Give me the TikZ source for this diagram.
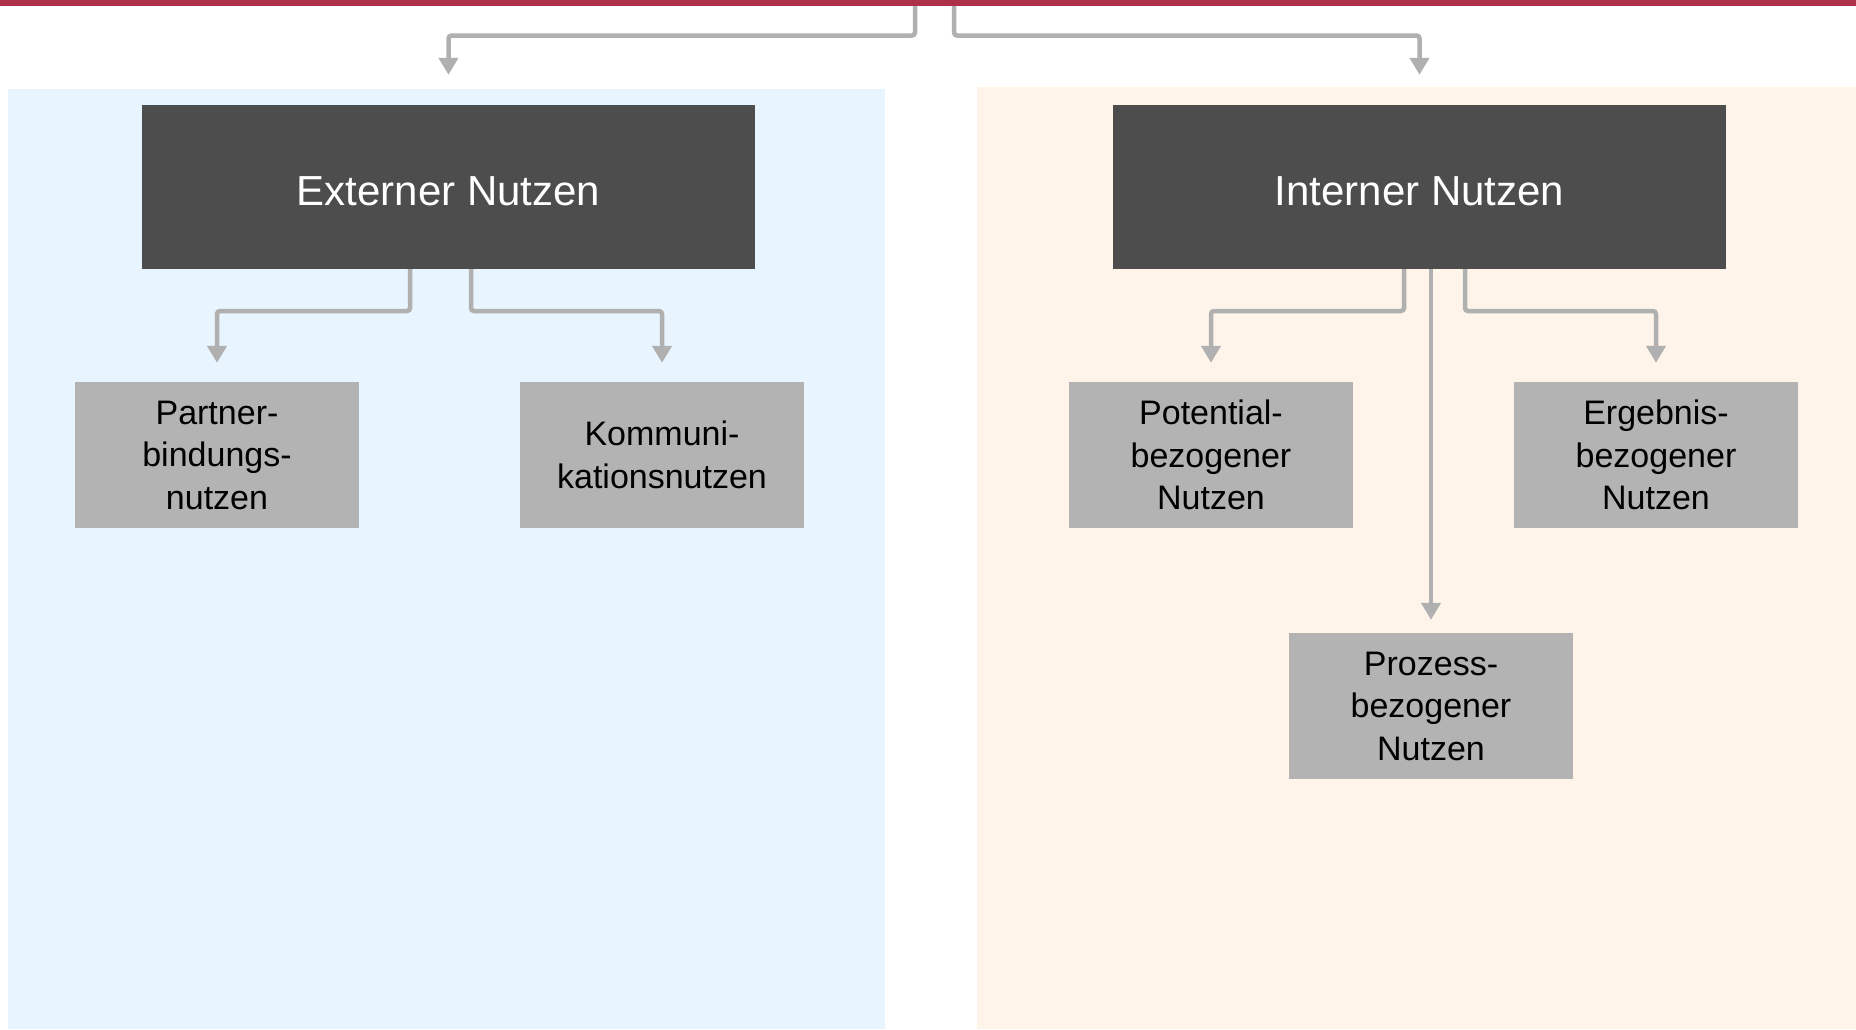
\documentclass[tikz,border=0pt]{standalone}
\usepackage{fontspec}
\setmainfont{Liberation Sans}
\usetikzlibrary{arrows.meta}
\definecolor{barred}{HTML}{AE314B}
\definecolor{darkbox}{HTML}{4D4D4D}
\definecolor{graybox}{HTML}{B3B3B3}
\definecolor{connc}{HTML}{B0B0B0}
\definecolor{lblue}{HTML}{E8F5FE}
\definecolor{lpeach}{HTML}{FEF4EA}
\tikzset{
  panel/.style={fill=#1, draw=none, inner sep=0pt, anchor=center},
  headbox/.style={fill=darkbox, text=white, minimum width=613pt, minimum height=164pt, inner sep=0pt, text height=37pt, text depth=0pt, font=\fontsize{42}{50}\selectfont},
  subbox/.style={fill=graybox, text=black, minimum width=284pt, minimum height=146pt, inner sep=0pt, align=center, font=\fontsize{34}{42.5}\selectfont},
  conn/.style={draw=connc, line width=4.5pt, rounded corners=3pt, -{Triangle[width=19pt,length=17pt]}},
}
\begin{document}
\begin{tikzpicture}[x=1pt,y=-1pt]
\useasboundingbox (0,0) rectangle (1856,1029);
% panels
\node[panel=lblue, minimum width=877pt, minimum height=940pt] (lpanel) at (446.5,559) {};
\node[panel=lpeach, minimum width=879pt, minimum height=942pt] (rpanel) at (1416.5,558) {};
% top bar
\node[fill=barred, inner sep=0pt, minimum width=1856pt, minimum height=6pt] (bar) at (928,3) {};
% header boxes
\node[headbox] (ext) at (448.5,187) {Externer Nutzen};
\node[headbox] (int) at (1419.5,187) {Interner Nutzen};
% sub boxes
\node[subbox] (partner) at (217,455) {Partner-\\bindungs-\\nutzen};
\node[subbox] (komm) at (662,455) {Kommuni-\\kationsnutzen};
\node[subbox] (pot) at (1211,455) {Potential-\\bezogener\\Nutzen};
\node[subbox] (erg) at (1656,455) {Ergebnis-\\bezogener\\Nutzen};
\node[subbox] (proz) at (1431,706) {Prozess-\\bezogener\\Nutzen};
% connectors from top bar
\draw[conn, shorten >=14pt] (bar.south -| 915,0) -- (915,35.5) -| (lpanel.north -| ext.north);
\draw[conn, shorten >=12pt] (bar.south -| 954,0) -- (954,35.5) -| (rpanel.north -| int.north);
% external
\draw[conn, shorten >=19pt] (ext.south -| 410,0) -- (410,311) -| (partner.north);
\draw[conn, shorten >=19pt] (ext.south -| 471,0) -- (471,311) -| (komm.north);
% internal
\draw[conn, shorten >=19pt] (int.south -| 1404,0) -- (1404,311) -| (pot.north);
\draw[conn, shorten >=19pt] (int.south -| 1465,0) -- (1465,311) -| (erg.north);
\draw[conn, shorten >=13pt] (int.south -| proz.north) -- (proz.north);
\end{tikzpicture}
\end{document}
